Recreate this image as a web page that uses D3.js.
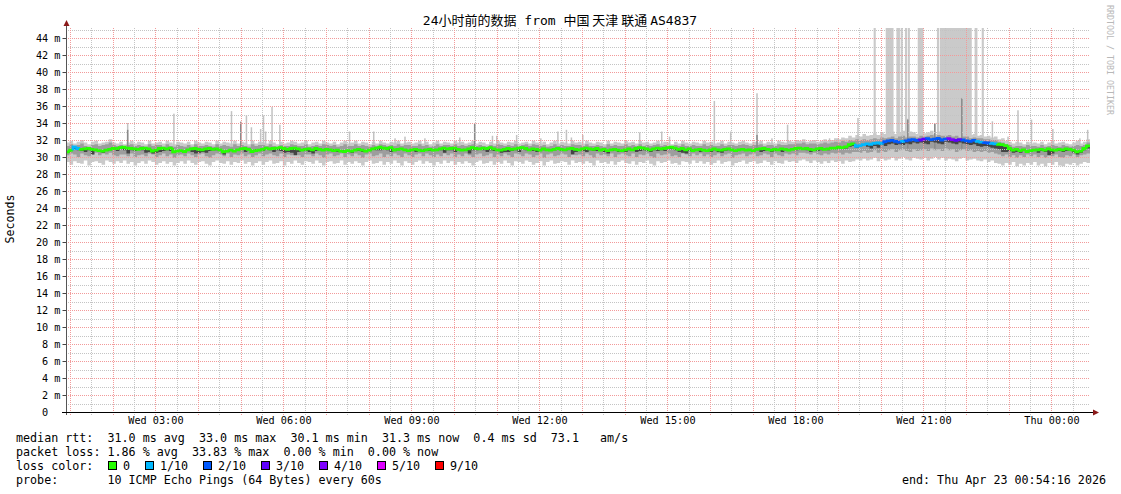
<!DOCTYPE html>
<html><head><meta charset="utf-8">
<script src="https://cdn.jsdelivr.net/npm/d3@7"></script>
<style>
html,body{margin:0;padding:0;background:#fff;}
svg{display:block;}
text{font-family:"DejaVu Sans Mono",monospace;white-space:pre;}
</style></head><body>
<svg id="c" width="1121" height="494"></svg>
<script>
// ---------- DATA ----------
const startTime = "2026-04-22 00:54:16";
const endTime   = "2026-04-23 00:54:16";
const stepMinutes = 5;

const median = [
30.6,30.8,31.2,31.0,30.9,30.95,31.0,30.9,30.85,30.75,30.7,30.8,30.9,31.0,31.0,31.1,31.15,31.05,31.0,30.95,
30.9,31.0,31.05,30.95,30.7,30.8,31.0,31.05,30.95,31.05,30.6,30.7,30.75,30.65,30.85,30.95,31.0,30.9,30.85,30.95,
31.0,30.9,30.95,30.85,30.6,30.7,30.8,30.7,30.85,30.95,31.0,30.9,30.65,30.75,30.8,30.9,31.05,30.95,31.0,31.05,
31.1,31.0,30.9,31.0,31.05,30.95,30.8,30.9,30.95,30.85,31.0,30.9,30.8,30.9,30.85,30.75,30.8,30.7,30.65,30.75,
30.7,30.8,30.9,30.8,30.7,30.8,30.95,31.05,31.15,31.05,31.0,31.1,30.8,30.9,30.95,30.85,30.75,30.85,30.9,30.8,
30.75,30.85,30.9,30.8,30.85,30.95,31.05,30.95,31.0,31.05,30.9,30.8,30.85,30.95,31.1,31.0,30.95,31.05,31.0,31.1,
30.95,30.85,30.8,30.9,31.0,30.9,30.95,31.05,31.1,31.0,30.85,30.95,30.9,30.8,30.95,30.85,30.8,30.9,31.0,30.9,
30.85,30.95,31.0,30.9,30.85,30.95,31.05,30.95,30.9,31.0,30.8,30.9,30.75,30.85,30.9,30.8,30.75,30.85,30.95,30.85,
31.0,31.1,31.05,30.95,30.85,30.95,31.05,30.95,31.0,31.1,31.15,31.05,30.9,31.0,30.85,30.95,30.75,30.85,30.9,30.8,
30.75,30.85,30.95,30.85,30.8,30.9,30.95,30.85,30.75,30.85,30.9,30.8,30.85,30.75,30.9,30.95,31.0,30.9,30.8,30.9,
30.85,30.95,30.9,30.8,30.9,31.0,31.05,30.95,31.0,30.9,30.85,30.95,31.0,30.9,30.95,31.05,31.05,31.15,31.1,31.2,
31.45,31.55,31.25,31.35,31.45,31.55,31.5,31.6,31.65,31.6,31.8,31.9,31.95,31.85,31.75,31.85,31.9,32.0,32.05,31.95,
32.0,32.1,32.15,32.05,32.1,32.2,32.0,32.1,32.15,32.05,31.95,32.05,32.0,31.9,31.85,31.95,31.85,31.75,31.7,31.65,
31.6,31.55,31.5,31.45,31.35,31.0,30.8,30.9,30.75,30.85,30.65,30.75,30.8,30.85,30.9,30.8,30.95,30.85,30.8,30.9,
30.85,30.95,30.9,30.8,30.6,30.7,31.0,31.3];

const lossCount = [
0,0,1,1,0,0,0,0,0,0,0,0,0,0,0,0,0,0,0,0, 0,0,0,0,0,0,0,0,0,0,0,0,0,0,0,0,0,0,0,0,
0,0,0,0,0,0,0,0,0,0,0,0,0,0,0,0,0,0,0,0, 0,0,0,0,0,0,0,0,0,0,0,0,0,0,0,0,0,0,0,0,
0,0,0,0,0,0,0,0,0,0,0,0,0,0,0,0,0,0,0,0, 0,0,0,0,0,0,0,0,0,0,0,0,0,0,0,0,0,0,0,0,
0,0,0,0,0,0,0,0,0,0,0,0,0,0,0,0,0,0,0,0, 0,0,0,0,0,0,0,0,0,0,0,0,0,0,0,0,0,0,0,0,
0,0,0,0,0,0,0,0,0,0,0,0,0,0,0,0,0,0,0,0, 0,0,0,0,0,0,0,0,0,0,0,0,0,0,0,0,0,0,0,0,
0,0,0,0,0,0,0,0,0,0,0,0,0,0,0,0,0,0,0,0,
0,0,1,1,1,1,1,1,1,1,2,2,2,2,2,1,2,2,2,2,
3,3,2,2,2,2,2,2,4,4,3,3,2,2,2,2,1,1,2,2,
1,1,0,0,0,0,0,0,0,0,0,0,0,0,0,0,0,0,0,0,
0,0,0,0,0,0,0,0];

const smokeMin = [
29.4,29.1,29.5,29.3,29.2,29.6,29.0,29.4,29.5,29.3,29.1,29.6,29.4,29.2,29.5,29.3,
29.6,29.2,29.4,29.0,29.3,29.5,29.2,29.6,29.4,29.1,29.3,29.5,29.2,29.4,29.0,29.3,
29.5,29.2,29.6,29.3,29.1,29.4,29.5,29.2,29.0,29.4,29.6,29.3,29.2,29.5,29.1,29.4,
29.3,29.6,29.2,29.4,29.0,29.3,29.5,29.1,29.4,29.6,29.2,29.3,29.5,29.0,29.4,29.2,
29.6,29.3,29.1,29.5,29.4,29.2,29.6,29.3,29.0,29.4,29.5,29.2,29.3,29.6,29.1,29.4,
29.2,29.5,29.3,29.0,29.4,29.6,29.2,29.3,29.5,29.1,29.4,29.2,29.6,29.3,29.0,29.5,
29.3,29.1,29.4,29.6,29.2,29.5,29.3,29.0,29.4,29.2,29.6,29.3,29.5,29.1,29.4,29.2,
29.5,29.3,29.0,29.4,29.6,29.2,29.3,29.5,29.1,29.4,29.2,29.6,29.3,29.0,29.5,29.4,
29.2,29.6,29.4,29.1,29.3,29.5,29.0,29.4,29.6,29.2,29.3,29.5,29.4,29.1,29.6,29.3,
29.4,29.2,29.5,29.3,29.0,29.6,29.3,29.4,29.2,29.5,29.1,29.4,29.6,29.3,29.2,29.5,
29.1,29.4,29.3,29.6,29.2,29.0,29.5,29.3,29.4,29.6,29.2,29.3,29.1,29.5,29.4,29.2,
29.6,29.3,29.5,29.2,29.4,29.1,29.3,29.6,29.2,29.4,29.5,29.0,29.3,29.4,29.6,29.2,
29.4,29.5,29.2,29.3,29.6,29.4,29.1,29.5,29.3,29.2,29.6,29.4,29.5,29.3,29.6,29.7,
29.5,29.3,29.6,29.4,29.2,29.5,29.3,29.6,29.4,29.5,29.2,29.6,29.4,29.5,29.7,29.6,
29.8,29.6,29.7,29.9,29.5,29.8,29.6,29.7,29.9,29.6,29.8,30.0,29.7,29.6,29.9,29.8,
29.7,29.9,29.6,29.8,30.0,29.7,29.9,29.6,29.8,29.7,29.5,29.8,29.9,29.6,29.7,29.8,
29.6,29.5,29.7,29.4,29.6,29.3,29.2,29.0,29.3,29.1,29.4,28.9,29.2,29.0,29.3,29.1,
29.4,29.0,29.2,28.9,29.3,29.1,29.4,29.0,28.9,29.2,29.1,29.3,29.0,29.2,29.4,29.3];

const smokeMax = [
31.7,31.9,31.6,31.8,32.0,31.7,31.5,31.8,31.9,31.6,31.7,31.8,32.1,31.7,31.6,31.8,
31.5,31.7,31.9,31.6,31.8,31.7,31.5,31.9,31.6,31.7,31.8,31.6,31.9,31.7,31.5,31.8,
31.7,31.6,31.8,31.5,31.9,31.7,31.6,31.8,31.7,31.5,31.9,31.6,31.8,31.7,31.6,31.9,
31.6,31.8,31.7,31.5,31.9,31.6,31.8,31.7,31.6,31.9,31.7,31.5,31.8,31.6,31.7,31.9,
31.8,31.6,31.7,31.9,31.5,31.7,31.8,31.6,31.9,31.7,31.6,31.8,31.5,31.7,31.9,31.6,
31.7,31.9,31.6,31.8,31.7,31.5,31.8,31.6,31.9,31.7,31.6,31.8,31.7,31.9,31.6,31.7,
31.8,31.6,31.7,31.9,31.6,31.8,31.5,31.7,31.9,31.6,31.8,31.7,31.6,31.9,31.7,31.8,
31.6,31.7,31.9,31.6,31.8,31.7,31.5,31.8,31.6,31.9,31.7,31.6,31.8,31.7,31.9,31.6,
31.7,31.8,31.6,31.9,31.7,31.6,31.8,31.5,31.7,31.9,31.6,31.8,31.7,31.6,31.9,31.7,
31.8,31.6,31.9,31.7,31.6,31.8,31.7,31.5,31.9,31.6,31.8,31.7,31.6,31.9,31.7,31.8,
31.6,31.9,31.7,31.8,31.6,31.7,31.9,31.6,31.8,31.7,31.5,31.8,31.6,31.9,31.7,31.6,
31.8,31.7,31.6,31.9,31.7,31.8,31.6,31.7,31.9,31.6,31.8,31.7,31.6,31.8,31.9,31.7,
31.6,31.8,31.7,31.9,31.6,31.8,31.7,31.6,31.9,31.8,31.7,31.9,31.8,32.0,31.9,32.1,
31.8,31.9,32.0,31.8,31.9,32.1,31.9,32.0,32.2,32.1,32.3,32.2,32.5,32.3,32.6,32.4,
32.7,32.5,32.6,32.8,32.6,32.9,32.7,32.8,33.0,32.7,32.9,33.1,32.8,33.0,32.9,32.7,
33.0,32.8,32.9,33.1,32.7,33.0,32.8,32.9,33.1,32.8,33.0,32.7,32.9,32.8,32.6,32.7,
32.5,32.6,32.4,32.5,32.3,32.4,32.1,32.2,31.9,31.8,31.6,31.8,31.7,31.5,31.8,31.6,
31.7,31.6,31.8,31.5,31.7,31.9,31.6,31.7,31.8,31.6,31.5,31.7,31.9,31.6,31.8,32.1];

const smokeHi = [
31.3,31.5,31.2,31.4,31.6,31.3,31.2,31.4,31.5,31.3,31.4,31.5,31.7,31.4,31.3,31.4,
31.2,31.4,31.5,31.3,31.4,31.3,31.2,31.5,31.3,31.4,31.4,31.2,31.5,31.3,31.2,31.4,
31.3,31.2,31.4,31.2,31.5,31.3,31.3,31.4,31.3,31.2,31.5,31.3,31.4,31.3,31.2,31.5,
31.3,31.4,31.3,31.2,31.5,31.3,31.4,31.4,31.3,31.5,31.3,31.2,31.4,31.3,31.3,31.5,
31.4,31.3,31.3,31.5,31.2,31.3,31.4,31.3,31.5,31.4,31.3,31.4,31.2,31.3,31.5,31.3,
31.3,31.5,31.3,31.4,31.3,31.2,31.4,31.3,31.5,31.4,31.3,31.4,31.3,31.5,31.3,31.4,
31.4,31.3,31.3,31.5,31.3,31.4,31.2,31.3,31.5,31.3,31.4,31.4,31.3,31.5,31.3,31.4,
31.3,31.4,31.5,31.3,31.4,31.3,31.2,31.4,31.3,31.5,31.4,31.3,31.4,31.3,31.5,31.3,
31.4,31.5,31.3,31.5,31.4,31.3,31.4,31.2,31.3,31.5,31.3,31.4,31.3,31.3,31.5,31.4,
31.4,31.3,31.5,31.3,31.3,31.4,31.3,31.2,31.5,31.3,31.4,31.3,31.3,31.5,31.3,31.4,
31.3,31.5,31.3,31.4,31.3,31.4,31.5,31.3,31.4,31.3,31.2,31.4,31.3,31.5,31.3,31.3,
31.4,31.3,31.3,31.5,31.3,31.4,31.3,31.3,31.5,31.3,31.4,31.4,31.3,31.4,31.5,31.4,
31.3,31.4,31.4,31.5,31.3,31.4,31.4,31.3,31.5,31.4,31.4,31.5,31.5,31.6,31.6,31.7,
31.5,31.6,31.6,31.5,31.6,31.7,31.6,31.7,31.8,31.7,31.9,31.8,32.0,31.9,32.1,32.0,
32.1,32.0,32.1,32.2,32.1,32.3,32.2,32.3,32.4,32.2,32.4,32.5,32.3,32.4,32.4,32.3,
32.5,32.4,32.5,32.6,32.4,32.6,32.5,32.5,32.6,32.4,32.5,32.3,32.4,32.4,32.2,32.3,
32.2,32.2,32.1,32.1,32.0,32.0,31.8,31.7,31.5,31.4,31.2,31.3,31.3,31.2,31.4,31.3,
31.3,31.2,31.4,31.2,31.3,31.4,31.3,31.2,31.4,31.3,31.2,31.3,31.4,31.3,31.4,31.7];

const smokeLo = [
30.2,30.4,30.3,30.0,30.4,30.2,30.1,30.3,30.5,30.2,30.4,30.3,30.5,30.2,30.1,30.3,
30.3,30.1,30.4,30.0,30.2,30.3,30.1,30.4,30.3,30.0,30.2,30.4,30.1,30.3,29.9,30.2,
30.3,30.1,30.4,30.2,30.0,30.3,30.4,30.1,29.9,30.2,30.4,30.3,30.1,30.4,30.0,30.3,
30.2,30.4,30.1,30.3,30.0,30.2,30.4,30.1,30.3,30.4,30.2,30.1,30.4,30.0,30.3,30.2,
30.4,30.2,30.0,30.3,30.3,30.1,30.4,30.2,29.9,30.3,30.4,30.1,30.2,30.4,30.0,30.3,
30.1,30.4,30.2,29.9,30.3,30.4,30.1,30.2,30.4,30.0,30.3,30.1,30.4,30.2,30.0,30.4,
30.2,30.0,30.3,30.4,30.1,30.4,30.2,30.0,30.3,30.1,30.4,30.2,30.4,30.0,30.3,30.1,
30.4,30.2,30.0,30.3,30.4,30.1,30.2,30.4,30.0,30.3,30.1,30.4,30.2,30.0,30.4,30.3,
30.1,30.4,30.3,30.0,30.2,30.4,29.9,30.3,30.4,30.1,30.2,30.4,30.3,30.0,30.4,30.2,
30.3,30.1,30.4,30.2,29.9,30.4,30.2,30.3,30.1,30.4,30.0,30.3,30.4,30.2,30.1,30.4,
30.0,30.3,30.2,30.4,30.1,29.9,30.4,30.2,30.3,30.4,30.1,30.2,30.0,30.4,30.3,30.1,
30.4,30.2,30.4,30.1,30.3,30.0,30.2,30.4,30.1,30.3,30.4,29.9,30.2,30.3,30.4,30.1,
30.3,30.4,30.1,30.2,30.4,30.3,30.0,30.4,30.2,30.1,30.4,30.3,30.4,30.2,30.5,30.5,
30.4,30.3,30.5,30.3,30.2,30.4,30.3,30.5,30.4,30.5,30.3,30.5,30.4,30.6,30.6,30.5,
30.7,30.5,30.6,30.8,30.5,30.7,30.6,30.8,30.9,30.6,30.8,30.9,30.7,30.6,30.9,30.7,
30.8,30.9,30.7,31.0,30.8,30.9,30.7,31.0,30.8,30.9,30.6,30.8,30.9,30.7,30.8,30.6,
30.7,30.6,30.7,30.5,30.6,30.4,30.3,30.1,30.3,30.0,30.2,29.9,30.2,30.0,30.3,30.1,
30.3,30.0,30.2,29.9,30.2,30.1,30.3,30.0,29.9,30.2,30.1,30.3,30.0,30.2,30.3,30.4];

// lower edge of the darkest (innermost) ping pair, drawn up to the median
const smokeCore = [
30.5,30.7,30.9,30.8,30.7,30.6,30.8,30.3,30.7,30.6,30.5,30.7,30.8,30.9,30.7,30.9,
30.8,30.4,30.8,30.7,30.9,30.8,30.5,30.6,30.4,30.5,30.6,30.7,30.8,30.7,30.7,30.8,
30.8,30.7,30.8,30.6,30.4,30.5,30.6,30.5,30.7,30.8,30.8,30.7,30.3,30.6,30.7,30.8,
30.8,30.9,30.6,30.8,30.7,30.9,30.8,30.7,30.9,30.8,30.6,30.8,30.7,30.5,30.6,30.5,
30.2,30.6,30.8,30.7,30.6,30.4,30.7,30.9,30.9,30.8,30.7,30.9,30.6,30.8,30.8,30.7,
30.5,30.7,30.7,30.6,30.8,30.7,30.9,30.8,30.8,30.9,30.8,30.6,30.7,30.8,30.9,30.8,
30.8,30.7,30.6,30.8,30.9,30.7,30.7,30.9,30.9,30.8,30.5,30.8,30.8,30.6,30.8,30.7,
30.7,30.4,30.8,30.8,30.9,30.8,30.6,30.8,30.7,30.9,30.5,30.6,30.6,30.7,30.8,30.6,
30.9,30.8,30.9,30.7,30.6,30.8,30.8,30.7,30.9,30.8,30.9,30.7,30.7,30.9,30.3,30.6,
30.8,30.7,30.6,30.8,30.7,30.7,30.8,30.6,30.4,30.7,30.8,30.6,30.7,30.6,30.8,30.7,
30.6,30.7,30.8,30.7,30.6,30.8,30.7,30.8,30.7,30.9,30.9,30.8,30.6,30.5,30.4,30.7,
30.8,30.7,30.6,30.8,30.7,30.6,30.8,30.6,30.5,30.7,30.8,30.7,30.8,30.9,30.9,30.8,
30.7,30.8,30.8,30.6,30.7,30.8,30.6,30.7,30.7,30.6,30.8,30.9,30.9,30.8,30.9,31.0,
30.8,30.6,30.9,30.7,30.8,30.9,30.8,30.9,30.9,31.0,30.9,31.0,31.2,31.3,31.1,31.3,
31.3,31.2,31.0,31.3,31.1,31.4,31.3,31.5,31.6,31.4,31.5,31.4,31.6,31.5,31.7,31.6,
31.7,31.6,31.5,31.8,31.7,31.6,31.5,31.8,31.7,31.6,31.5,31.7,31.6,31.5,31.4,31.5,
31.3,31.2,31.3,31.2,31.1,31.0,30.9,30.6,30.6,30.7,30.5,30.6,30.5,30.7,30.6,30.7,
30.8,30.5,30.7,30.6,30.2,30.4,30.8,30.7,30.6,30.7,30.8,30.5,30.3,30.5,30.8,31.0];

// single high pings: [time, ms]
const spikes = [["02:21",34.0],["03:26",35.1],["04:47",35.4],["05:00",34.2],["05:08",34.9],["05:15",33.5],
["05:28",33.3],["05:32",34.9],["05:35",33.0],["05:44",35.9],["05:55",33.8],["07:33",33.0],["08:07",33.0],
["08:37",32.2],["08:51",32.4],["09:19",32.2],["10:08",32.3],["10:29",34.0],["10:54",32.5],["11:00",32.5],
["11:28",32.6],["12:02",32.2],["12:26",33.0],["12:38",33.2],["12:45",32.3],["13:01",32.6],["14:21",32.9],
["14:52",33.0],["15:03",32.4],["16:06",36.6],["16:29",33.0],["17:06",37.5],["17:27",32.2],["17:49",33.8],
["18:48",32.2],["19:00",32.2],["19:28",34.6],["20:38",34.5],["21:16",34.0],["21:54",37.0],["22:37",34.2],
["22:59",32.4],["23:13",35.5],["23:32",34.4],["00:02",33.3],["00:40",32.2],["00:51",33.2]];
// second-highest pings on some spikes: [time, ms]
const spikesInner = [["02:21",33.2],["05:00",34.1],["10:29",33.9],["17:06",32.6],["20:38",34.4],["21:16",33.9],["21:54",36.9]];
// periods where the max ping was off the scale: [from, to, ms]
const bursts = [["19:50","19:53",60],["20:07","20:18",60],["20:22","20:27",60],["20:28","20:31",60],
["20:34","20:37",60],["20:38","20:41",60],["20:52","21:00",60],["21:19","21:22",60],["21:23","22:08",60],
["22:12","22:16",60],["22:22","22:25",60]];

const yTicks = [0,2,4,6,8,10,12,14,16,18,20,22,24,26,28,30,32,34,36,38,40,42,44];
const yTickLabels = ["0","2 m","4 m","6 m","8 m","10 m","12 m","14 m","16 m","18 m","20 m","22 m","24 m","26 m","28 m","30 m","32 m","34 m","36 m","38 m","40 m","42 m","44 m"];
const xTickTimes = ["2026-04-22 03:00:00","2026-04-22 06:00:00","2026-04-22 09:00:00","2026-04-22 12:00:00","2026-04-22 15:00:00","2026-04-22 18:00:00","2026-04-22 21:00:00","2026-04-23 00:00:00"];
const xTickLabels = ["Wed 03:00","Wed 06:00","Wed 09:00","Wed 12:00","Wed 15:00","Wed 18:00","Wed 21:00","Thu 00:00"];

const lossLevels = [0,1,2,3,4,5,9];
const lossLabels = ["0","1/10","2/10","3/10","4/10","5/10","9/10"];
const lossColors = ["#26ff00","#00b8ff","#0059ff","#5e00ff","#7e00ff","#dd00ff","#ff0000"];

const titleParts = [["24","mono"],["小时前的数据","cjk"],[" from ","mono"],["中国 天津 联通 ","cjk"],["AS4837","mono"]];
const legendLines = [
  "median rtt:  31.0 ms avg  33.0 ms max  30.1 ms min  31.3 ms now  0.4 ms sd  73.1   am/s",
  "packet loss: 1.86 % avg  33.83 % max  0.00 % min  0.00 % now",
  "loss color:",
  "probe:       10 ICMP Echo Pings (64 Bytes) every 60s"
];
const endLabel = "end: Thu Apr 23 00:54:16 2026";

// ---------- DRAW ----------
const parse = d3.utcParse("%Y-%m-%d %H:%M:%S");
const t0 = parse(startTime), t1 = parse(endTime);
const dayBase = parse("2026-04-22 00:00:00");
function hm(s){ const [h,m]=s.split(":").map(Number); let mins=h*60+m;
  if (dayBase.getTime()+mins*60000 < t0.getTime()) mins += 1440;
  return new Date(dayBase.getTime()+mins*60000); }
const stepTime = i => new Date(t0.getTime() + i*stepMinutes*60000);

const L=66, R=1090, T=28, B=412;
const x = d3.scaleUtc().domain([t0,t1]).range([L,R]);
const y = d3.scaleLinear().domain([0,45.18]).range([B,T]);
const svg = d3.select("#c");
svg.append("rect").attr("width",1121).attr("height",494).attr("fill","#fff");
svg.append("defs").append("clipPath").attr("id","clip").append("rect")
  .attr("x",L).attr("y",T).attr("width",R-L+1).attr("height",B-T);

const g = svg.append("g").attr("clip-path","url(#clip)");
const rows = median.map((m,i)=>({t:stepTime(i), med:m, loss:lossCount[i],
  mn:smokeMin[i], mx:smokeMax[i], lo:smokeLo[i], hi:smokeHi[i], core:smokeCore[i]}));
const rowsExt = rows.concat([Object.assign({}, rows[rows.length-1], {t:stepTime(rows.length)})]);
const stepArea = d3.area().curve(d3.curveStepAfter).x(d=>x(d.t));

// outer smoke
g.append("path").attr("fill","#cacaca")
  .attr("d", stepArea.y0(d=>y(d.mn)).y1(d=>y(d.mx))(rowsExt));
// bursts + spikes
g.selectAll(".burst").data(bursts).join("rect").attr("fill","#cacaca")
  .attr("x",d=>x(hm(d[0]))).attr("width",d=>Math.max(1.5,x(hm(d[1]))-x(hm(d[0]))))
  .attr("y",d=>y(d[2])).attr("height",d=>y(31)-y(d[2]));
g.selectAll(".spk").data(spikes).join("rect").attr("fill","#c2c2c2")
  .attr("x",d=>x(hm(d[0]))-0.75).attr("width",1.5)
  .attr("y",d=>y(d[1])).attr("height",d=>y(31)-y(d[1]));
// middle smoke
g.append("path").attr("fill","#9d9d9d")
  .attr("d", stepArea.y0(d=>y(d.lo)).y1(d=>y(d.hi))(rowsExt));
g.selectAll(".spki").data(spikesInner).join("rect").attr("fill","#8a8a8a")
  .attr("x",d=>x(hm(d[0]))-0.75).attr("width",1.5)
  .attr("y",d=>y(d[1])).attr("height",d=>y(31)-y(d[1]));
// inner smoke
g.append("path").attr("fill","#444")
  .attr("d", stepArea.y0(d=>y(d.core)).y1(d=>y(d.med))(rowsExt));

// grid (drawn over data like rrdtool)
const grid = svg.append("g");
const minorY = d3.range(1,46,2), majorY = yTicks.filter(v=>v>0);
grid.selectAll(".gy").data(minorY).join("line")
  .attr("x1",L).attr("x2",R).attr("y1",d=>Math.round(y(d))+0.5).attr("y2",d=>Math.round(y(d))+0.5)
  .attr("stroke","#c4c4c4").attr("stroke-dasharray","1,1");
grid.selectAll(".My").data(majorY).join("line")
  .attr("x1",L).attr("x2",R).attr("y1",d=>Math.round(y(d))+0.5).attr("y2",d=>Math.round(y(d))+0.5)
  .attr("stroke","#f29a9a").attr("stroke-dasharray","1,1");
const hours = d3.utcHour.every(1).range(t0,t1);
const halfHours = d3.utcMinute.every(30).range(t0,t1).filter(d=>d.getUTCMinutes()===30);
grid.selectAll(".gx").data(halfHours).join("line")
  .attr("x1",d=>Math.round(x(d))+0.5).attr("x2",d=>Math.round(x(d))+0.5).attr("y1",T).attr("y2",B+3)
  .attr("stroke","#c4c4c4").attr("stroke-dasharray","1,1");
grid.selectAll(".Mx").data(hours).join("line")
  .attr("x1",d=>Math.round(x(d))+0.5).attr("x2",d=>Math.round(x(d))+0.5).attr("y1",T).attr("y2",B+3)
  .attr("stroke","#f29a9a").attr("stroke-dasharray","1,1");

// median line coloured by loss
const colorOf = n => lossColors[lossLevels.indexOf(n)];
const ml = svg.append("g").attr("clip-path","url(#clip)");
rows.forEach((d,i)=>{
  const xa = x(d.t), xb = x(stepTime(i+1));
  const prev = i>0 ? rows[i-1].med : d.med;
  ml.append("path").attr("fill","none").attr("stroke",colorOf(d.loss)).attr("stroke-width",2.8)
    .attr("d",`M${xa},${y(prev)}V${y(d.med)}H${xb}`);
});

// axes
const yAxis = d3.axisLeft(y).tickValues(yTicks).tickFormat((d,i)=>yTickLabels[i]).tickSize(4).tickPadding(2);
const ya = svg.append("g").attr("transform",`translate(${L+0.5},0)`).call(yAxis);
ya.select(".domain").remove();
ya.selectAll(".tick line").attr("stroke","#444");
ya.selectAll(".tick text").attr("font-family","DejaVu Sans Mono").attr("font-size",10.2).attr("fill","#000");
ya.selectAll(".tick").filter(d=>d===0).select("text").attr("x",-6-2*6.14);

const xAxis = d3.axisBottom(x).tickValues(xTickTimes.map(parse)).tickFormat((d,i)=>xTickLabels[i]).tickSize(0).tickPadding(5);
const xa = svg.append("g").attr("transform",`translate(0,${B})`).call(xAxis);
xa.select(".domain").remove();
xa.selectAll(".tick text").attr("font-family","DejaVu Sans Mono").attr("font-size",10.2).attr("fill","#000");

// axis lines + arrows
svg.append("line").attr("x1",L+0.5).attr("x2",L+0.5).attr("y1",B+3).attr("y2",24).attr("stroke","#555");
svg.append("line").attr("x1",L-4).attr("x2",R+4).attr("y1",B+0.5).attr("y2",B+0.5).attr("stroke","#000");
svg.append("path").attr("fill","#8b1a1a").attr("d",`M${L-2.5},26 L${L+3.5},26 L${L+0.5},20 Z`);
svg.append("path").attr("fill","#8b1a1a").attr("d",`M${R+3},${B-2.5} L${R+3},${B+3.5} L${R+9},${B+0.5} Z`);

// title
const tt = svg.append("text").attr("x",560).attr("y",25).attr("text-anchor","middle").attr("font-size",13);
titleParts.forEach(p=>{
  tt.append("tspan").attr("font-family", p[1]==="cjk" ? "'Noto Sans CJK SC',sans-serif" : "'DejaVu Sans Mono',monospace").text(p[0]);
});
// unit label
svg.append("text").attr("transform","translate(14,219) rotate(-90)").attr("text-anchor","middle")
  .attr("font-size",11.6).text("Seconds");
// watermark
svg.append("text").attr("transform","translate(1107,5) rotate(90)").attr("text-anchor","start")
  .attr("font-size",8.3).attr("fill","#b8b8b8").text("RRDTOOL / TOBI OETIKER");

// legend
const lf = 11.7;
const ly = [442,456,470,484];
legendLines.forEach((s,i)=>{
  svg.append("text").attr("x",16).attr("y",ly[i]).attr("font-size",lf).text(s);
});
let cur = 108;
lossLabels.forEach((lab,i)=>{
  svg.append("rect").attr("x",Math.round(cur)+0.5).attr("y",ly[2]-8.5).attr("width",8).attr("height",8)
    .attr("fill",lossColors[i]).attr("stroke","#000");
  svg.append("text").attr("x",cur+15).attr("y",ly[2]).attr("font-size",lf).text(lab);
  cur += 30 + 7*lab.length;
});
svg.append("text").attr("x",1106).attr("y",ly[3]).attr("text-anchor","end").attr("font-size",lf).text(endLabel);
</script>
</body></html>
